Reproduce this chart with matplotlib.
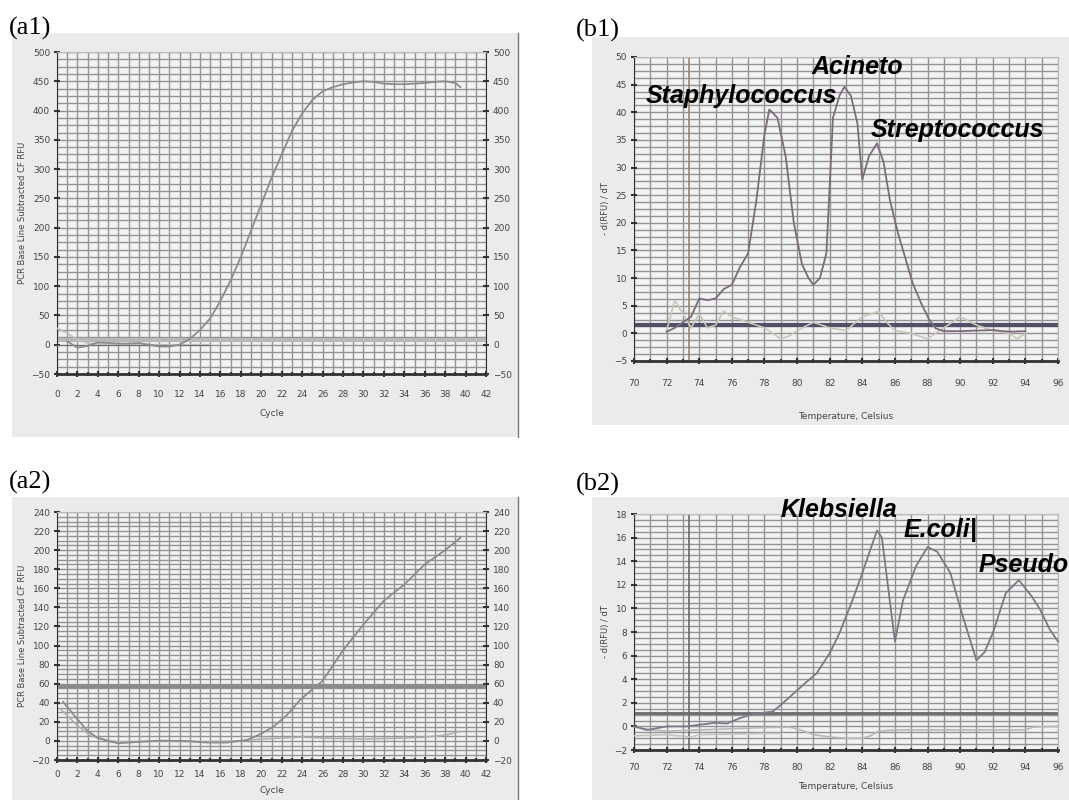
import numpy as np
import matplotlib
matplotlib.use("Agg")
from matplotlib import pyplot as plt
from matplotlib.patches import Rectangle
from matplotlib.ticker import MultipleLocator

# (a1) amplification curves
a1_cycle = [1, 2, 3, 4, 5, 6, 7, 8, 9, 10, 11, 12, 12.5, 13, 14, 15, 16, 17, 18, 19, 20,
            21, 22, 23, 24, 25, 26, 27, 28, 29, 30, 31, 32, 33, 34, 35, 36, 37, 38, 39, 39.5]
a1_rfu = [6, -5, -2, 4, 3, 2, 2, 3, 0, -3, -3, 0, 5, 10, 25, 45, 75, 110, 150, 195, 240,
          285, 325, 365, 395, 418, 433, 440, 445, 448, 450, 449, 446, 445, 445, 446, 447, 449, 450, 447, 440]
a1_neg_cycle = [0, 1, 2, 3, 4, 6, 8, 10, 12, 15]
a1_neg_rfu = [28, 20, 8, 3, 1, 0, 0, 0, 0, 0]
a1_threshold = 8

# (a2)
a2_cycle = [0.6, 1.9, 2.9, 3.9, 5.2, 6, 7.5, 10, 12.7, 14.6, 16.6, 18.6, 19.9, 21.2, 22.5,
            23.8, 25.1, 26, 28, 30, 32, 34, 36, 38, 39.5]
a2_rfu = [41, 24, 11.5, 3.5, -0.7, -2.4, -1.4, 0.3, 0, -1.7, -1.7, 1, 7, 15, 27,
          43, 55, 63, 95, 122, 147, 164, 185, 200, 213]
a2_neg_cycle = [0.3, 1.9, 3.2, 4.8, 6, 10, 14, 18, 20, 24, 26, 30, 34, 36, 38, 39.5]
a2_neg_rfu = [34, 17, 6, 1, -1, 0, -1, 0, 2, 4, 3, 2, 3, 4, 6, 10]
a2_threshold = 58

# (b1) melt curves
b1_temp = [72, 72.5, 73, 73.5, 74, 74.5, 75, 75.5, 76, 76.5, 77, 77.5, 78, 78.3, 78.8, 79.3,
           79.8, 80.3, 80.7, 81, 81.4, 81.8, 82.2, 82.6, 82.9, 83.3, 83.7, 84, 84.4, 84.9,
           85.3, 85.7, 86.2, 86.6, 87.1, 87.6, 88.1, 88.5, 89, 90, 91, 92, 93, 94]
b1_rfu = [0.3, 1, 2, 3, 6.3, 6, 6.3, 8, 8.8, 12, 14.5, 24, 36, 40.5, 39, 32,
          20, 12.5, 10, 8.8, 10, 14.5, 39, 43, 44.6, 43, 38, 27.8, 32, 34.4,
          31, 24, 18, 14, 9, 5.5, 2.5, 0.9, 0.4, 0.4, 0.5, 0.6, 0.3, 0.4]
b1_neg_temp = [72, 72.5, 73, 73.5, 74, 74.5, 75, 75.5, 76, 77, 78, 79, 79.5, 80, 81, 82, 83,
               84, 85, 85.5, 86, 87, 88, 88.5, 89, 90, 91, 92, 93, 93.5, 94]
b1_neg_rfu = [0.5, 6, 3.5, 1, 3.5, 1, 1.5, 4, 3, 2, 1, -1, -0.5, 0.5, 2, 1, 0.5,
              3, 4, 2, 0.5, 0, -1, 0, 1, 3, 1.5, 0.5, 0, -1, 0]
b1_threshold = 1.5
b1_marker = 73.4

# (b2)
b2_temp = [70, 70.8, 72, 73.2, 74.4, 74.9, 75.7, 76.5, 77.3, 78.5, 78.9, 79.8, 80.6, 81.2, 82,
           82.6, 83.4, 84, 84.7, 84.9, 85.2, 85.6, 86, 86.5, 87.3, 88, 88.6, 89.4, 90.1, 91,
           91.5, 92, 92.8, 93.6, 94.4, 94.9, 95.5, 96]
b2_rfu = [0, -0.3, 0, 0, 0.2, 0.3, 0.25, 0.7, 1.05, 1.25, 1.7, 2.8, 3.8, 4.5, 6.2,
          7.9, 10.7, 13, 15.8, 16.6, 16, 11.6, 7.2, 10.7, 13.6, 15.2, 14.8, 13, 9.6, 5.6,
          6.3, 7.9, 11.3, 12.4, 11, 9.9, 8.2, 7.2]
b2_neg1_temp = [70, 71, 72, 74, 76, 78, 79.5, 80, 81, 82, 83, 84, 84.5, 85, 86, 90, 94, 94.5, 96]
b2_neg1_rfu = [0, -0.3, -0.4, -0.3, -0.2, -0.1, -0.05, -0.2, -0.7, -0.9, -1, -1, -0.8, -0.4,
               -0.3, -0.3, -0.3, -0.05, 0]
b2_neg2_temp = [70, 72, 73.5, 74, 76, 78, 79]
b2_neg2_rfu = [-0.8, -0.7, -0.9, -0.7, -0.65, -0.6, -0.6]
b2_threshold = 1.1
b2_marker = 73.4

species_b1 = [("Staphylococcus", 70.7, 41.7), ("Acineto", 80.9, 46.9), ("Streptococcus", 84.5, 35.5)]
species_b2 = [("Klebsiella", 79.0, 17.75), ("E.coli|", 86.5, 16.05), ("Pseudo", 91.1, 13.1)]

W, H = 1069, 800
fig = plt.figure(figsize=(W / 100, H / 100), dpi=100)
fig.patch.set_facecolor("white")

PANEL = "#ebebeb"
GRID = "#939393"


def box(x0, y0, x1, y1, edge=False):
    # pixel box -> figure fractions
    r = Rectangle((x0 / W, 1 - y1 / H), (x1 - x0) / W, (y1 - y0) / H,
                  transform=fig.transFigure, facecolor=PANEL,
                  edgecolor="none", zorder=-5)
    fig.patches.append(r)
    if edge:
        fig.add_artist(plt.Line2D([x1 / W, x1 / W], [1 - y1 / H, 1 - y0 / H],
                                  transform=fig.transFigure, color="#777777", lw=1, zorder=-4))


def make_axes(px0, py0, px1, py1):
    return fig.add_axes([px0 / W, 1 - py1 / H, (px1 - px0) / W, (py1 - py0) / H])


def style(ax, xlim, ylim, xstep, ystep, ygrid, xlabel, ylabel, xpad, lpad, right=False):
    ax.set_facecolor("#f2f2f2")
    ax.set_xlim(*xlim)
    ax.set_ylim(*ylim)
    ax.xaxis.set_major_locator(MultipleLocator(xstep))
    ax.xaxis.set_minor_locator(MultipleLocator(xstep / 2))
    ax.yaxis.set_major_locator(MultipleLocator(ystep))
    ax.yaxis.set_minor_locator(MultipleLocator(ygrid))
    ax.grid(True, which="both", color=GRID, lw=1.0)
    ax.set_axisbelow(True)
    for s in ax.spines.values():
        s.set_color("#bbbbbb")
        s.set_linewidth(0.8)
    ax.spines["left"].set_color("#333333")
    ax.spines["bottom"].set_color("#333333")
    ax.spines["bottom"].set_linewidth(2)
    if right:
        ax.spines["right"].set_color("#333333")
    ax.tick_params(which="both", direction="inout", color="#333333", width=1.5,
                   labelsize=6.5, labelcolor="#444444", pad=3)
    ax.tick_params(which="major", length=4)
    ax.tick_params(which="minor", length=3)
    ax.tick_params(axis="y", which="minor", length=0)
    ax.tick_params(axis="x", which="major", pad=xpad)
    if right:
        ax.tick_params(axis="y", right=True, labelright=True)
    ax.set_xlabel(xlabel, fontsize=6.5, color="#444444", labelpad=lpad)
    ax.set_ylabel(ylabel, fontsize=6, color="#444444", labelpad=3)


# panels
box(12, 33, 518, 437, edge=True)
box(592, 37, 1069, 425)
box(12, 497, 518, 800, edge=True)
box(592, 497, 1069, 800)

# (a1)
ax1 = make_axes(57, 52, 486, 374)
style(ax1, (0, 42), (-50, 500), 2, 50, 12.5, "Cycle", "PCR Base Line Subtracted CF RFU",
      9.5, 7.5, right=True)
ax1.axhline(a1_threshold, color="#b8b8b8", lw=3, zorder=2)
ax1.plot(a1_neg_cycle, a1_neg_rfu, color="#c0c0c0", lw=1.2, zorder=3)
ax1.plot([0, 15], [0, 0], color="#707070", lw=0.8, zorder=3)
ax1.plot(a1_cycle, a1_rfu, color="#8c8c8c", lw=1.3, zorder=4)

# (a2)
ax2 = make_axes(57, 512, 486, 760)
style(ax2, (0, 42), (-20, 240), 2, 20, 5, "Cycle", "PCR Base Line Subtracted CF RFU",
      5, 5.5, right=True)
ax2.axhline(a2_threshold, color="#8a8a8a", lw=2.5, zorder=2)
ax2.plot(a2_neg_cycle, a2_neg_rfu, color="#b0b0b0", lw=1.2, zorder=3)
ax2.plot(a2_cycle, a2_rfu, color="#8c8c8c", lw=1.3, zorder=4)

# (b1)
ax3 = make_axes(634, 57, 1058, 361)
style(ax3, (70, 96), (-5, 50), 2, 5, 1.25, "Temperature, Celsius", "- d(RFU) / dT", 11, 17)
ax3.axhline(b1_threshold, color="#50506a", lw=3, zorder=2)
ax3.axvline(b1_marker, color="#a08468", lw=1.2, zorder=2)
ax3.plot(b1_neg_temp, b1_neg_rfu, color="#c8c8b8", lw=1.2, zorder=3)
ax3.plot(b1_temp, b1_rfu, color="#7d6b7d", lw=1.3, zorder=4)
for name, x, y in species_b1:
    ax3.text(x, y, name, fontsize=18, fontweight="bold", fontstyle="italic",
             family="Liberation Sans", color="black", zorder=6)

# (b2)
ax4 = make_axes(634, 514, 1058, 750)
style(ax4, (70, 96), (-2, 18), 2, 2, 0.5, "Temperature, Celsius", "- d(RFU) / dT", 7.3, 7.5)
ax4.axhline(b2_threshold, color="#6a6a6a", lw=2, zorder=2)
ax4.axvline(b2_marker, color="#6a6a6a", lw=1.2, zorder=2)
ax4.plot(b2_neg1_temp, b2_neg1_rfu, color="#b8b8b8", lw=1.2, zorder=3)
ax4.plot(b2_neg2_temp, b2_neg2_rfu, color="#c4c4c4", lw=1.2, zorder=3)
ax4.plot(b2_temp, b2_rfu, color="#7a7a86", lw=1.3, zorder=4, clip_on=False)
for name, x, y in species_b2:
    ax4.text(x, y, name, fontsize=18, fontweight="bold", fontstyle="italic",
             family="Liberation Sans", color="black", zorder=6, clip_on=False)

# panel tags
for tag, px, py in [("(a1)", 9, 28), ("(b1)", 576, 30), ("(a2)", 9, 482), ("(b2)", 576, 484)]:
    fig.text(px / W, 1 - py / H, tag, family="Liberation Serif", fontsize=19,
             va="center", ha="left")

fig.savefig("out.png", dpi=100)
